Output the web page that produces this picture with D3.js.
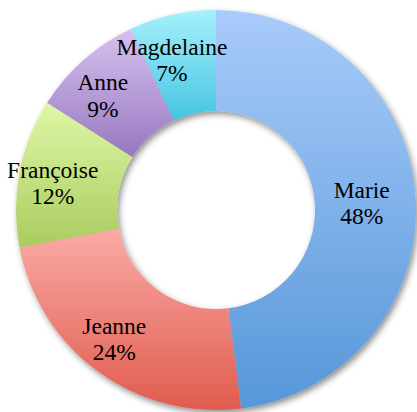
<!DOCTYPE html>
<html>
<head>
<meta charset="utf-8">
<script src="https://cdn.jsdelivr.net/npm/d3@7"></script>
<style>
  body { margin: 0; background: #fff; }
</style>
</head>
<body>
<div id="my_dataviz"></div>
<script>
// data
var names = ["Marie", "Jeanne", "Françoise", "Anne", "Magdelaine"]
var shares = [48, 24, 12, 9, 7]
var topColors = ["#a8cbfa", "#fbaaa5", "#dff7a6", "#d7c0ef", "#a6f0fc"]
var bottomColors = ["#5697d9", "#e05b4e", "#a9cc5f", "#9679c0", "#45c5e0"]

var width = 417, height = 412
var cx = 216, cy = 210
var outer = 200, inner = 99

var svg = d3.select("#my_dataviz")
  .append("svg")
    .attr("width", width)
    .attr("height", height)

var defs = svg.append("defs")

// soft drop shadow under the ring
var shadow = defs.append("filter")
    .attr("id", "shadow")
    .attr("x", "-10%").attr("y", "-10%")
    .attr("width", "120%").attr("height", "120%")
shadow.append("feDropShadow")
    .attr("dx", 2).attr("dy", 3)
    .attr("stdDeviation", 3)
    .attr("flood-color", "#000")
    .attr("flood-opacity", 0.45)

// one vertical gradient per slice
names.forEach(function(n, i) {
  var g = defs.append("linearGradient")
      .attr("id", "grad" + i)
      .attr("x1", 0).attr("y1", 0)
      .attr("x2", 0).attr("y2", 1)
  g.append("stop").attr("offset", "0%").attr("stop-color", topColors[i])
  g.append("stop").attr("offset", "100%").attr("stop-color", bottomColors[i])
})

var data = names.map(function(n, i) { return {name: n, value: shares[i], i: i} })

var pie = d3.pie()
    .sort(null)
    .value(function(d) { return d.value })

var arc = d3.arc()
    .innerRadius(inner)
    .outerRadius(outer)

var labelArc = d3.arc()
    .innerRadius(156)
    .outerRadius(156)

var ring = svg.append("g")
    .attr("transform", "translate(" + cx + "," + cy + ")")

ring.append("g")
    .attr("filter", "url(#shadow)")
  .selectAll("path")
  .data(pie(data))
  .enter().append("path")
    .attr("d", arc)
    .attr("fill", function(d) { return "url(#grad" + d.data.i + ")" })

// labels
var labels = ring.selectAll(".label")
  .data(pie(data))
  .enter().append("text")
    .attr("class", "label")
    .attr("transform", function(d) {
      var c = labelArc.centroid(d)
      return "translate(" + (c[0] - 10) + "," + (c[1] + 2) + ")"
    })
    .attr("text-anchor", "middle")
    .style("font-family", "'Liberation Serif'")
    .style("font-size", "23.5px")
    .style("fill", "#000")

labels.append("tspan")
    .attr("x", 0)
    .attr("dy", "-0.2em")
    .text(function(d) { return d.data.name })

labels.append("tspan")
    .attr("x", 0)
    .attr("dy", "1.12em")
    .text(function(d) { return d.data.value + "%" })
</script>
</body>
</html>
